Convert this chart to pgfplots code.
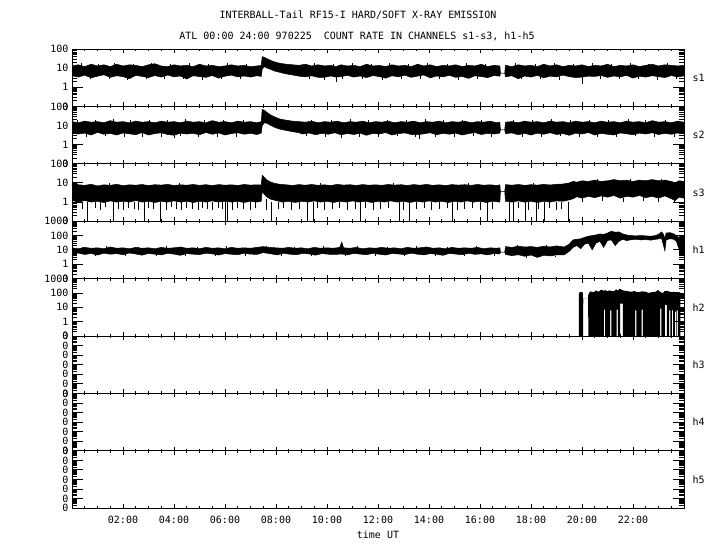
\documentclass[border=0pt]{standalone}
\usepackage{fontspec}
\setmainfont{DejaVu Sans Mono}
\usepackage{pgfplots}
\usepackage{pgfplotstable}
\pgfplotsset{compat=1.18}

% each table: outline of the count-rate band, upper envelope left to right, then lower envelope back
\pgfplotstableread{
t y
0.00 13
0.25 15
0.50 12
0.75 16
1.00 13
1.25 15
1.50 12
1.75 16
2.00 13
2.25 15
2.50 14
2.75 12
3.00 15
3.25 17
3.50 13
3.75 12
4.00 15
4.25 13
4.50 14
4.75 12
5.00 16
5.25 13
5.50 14
5.75 12
6.00 13
6.25 15
6.50 13
6.75 14
7.00 12
7.25 13
7.42 14
7.46 40
7.55 36
7.65 31
7.80 25
7.95 21
8.15 18
8.40 16
8.65 15
8.90 14
9.15 16
9.40 13
9.65 15
9.90 13
10.15 14
10.35 12
10.55 15
10.80 13
11.05 14
11.30 12
11.55 16
11.80 13
12.05 14
12.30 12
12.55 15
12.80 13
13.05 14
13.30 12
13.55 16
13.80 13
14.05 15
14.30 12
14.55 14
14.80 13
15.05 15
15.30 12
15.55 14
15.80 13
16.05 16
16.30 12
16.55 14
16.78 13
16.80 5.5
16.97 5.5
17.00 14
17.25 12
17.50 15
17.75 13
18.00 14
18.25 12
18.50 16
18.75 13
19.00 15
19.25 12
19.50 14
19.75 13
20.00 15
20.25 12
20.50 14
20.75 13
21.00 16
21.25 12
21.50 14
21.75 13
22.00 15
22.25 12
22.50 14
22.75 16
23.00 13
23.25 15
23.50 14
23.75 13
24.00 14
24.00 3.9
23.75 3.5
23.50 4.1
23.25 3.2
23.00 3.6
22.75 4.0
22.50 3.4
22.25 3.8
22.00 3.0
21.75 4.2
21.50 3.5
21.25 3.9
21.00 3.3
20.75 4.1
20.50 3.7
20.25 3.8
20.00 3.4
19.75 3.2
19.50 3.6
19.25 4.3
19.00 3.5
18.75 3.8
18.50 3.1
18.25 4.2
18.00 3.4
17.75 3.9
17.50 2.8
17.25 4.0
17.00 3.5
16.97 5.5
16.80 5.5
16.78 3.8
16.55 4.1
16.30 3.2
16.05 3.6
15.80 4.0
15.55 2.9
15.30 3.7
15.05 3.3
14.80 4.2
14.55 3.5
14.30 3.9
14.05 3.1
13.80 4.4
13.55 3.8
13.30 3.3
13.05 4.3
12.80 3.5
12.55 4.0
12.30 3.0
12.05 3.6
11.80 4.1
11.55 3.2
11.30 3.9
11.05 3.4
10.80 4.2
10.55 3.6
10.35 3.4
10.15 3.9
9.90 3.3
9.65 3.3
9.40 4.0
9.15 3.5
8.90 3.8
8.65 4.4
8.40 5
8.15 6
7.95 7
7.80 8.5
7.65 10
7.55 12
7.46 9
7.42 3.7
7.25 4.0
7.00 3.4
6.75 3.9
6.50 3.5
6.25 4.3
6.00 3.8
5.75 3.0
5.50 4.1
5.25 3.3
5.00 3.6
4.75 4.0
4.50 2.7
4.25 3.9
4.00 3.5
3.75 4.4
3.50 3.4
3.25 4.1
3.00 3.2
2.75 3.7
2.50 4.2
2.25 2.8
2.00 3.6
1.75 4.0
1.50 3.3
1.25 4.5
1.00 3.8
0.75 3.1
0.50 4.3
0.25 3.4
0.00 4.0
}\sone

\pgfplotstableread{
t y
0.00 16
0.25 14
0.50 17
0.75 15
1.00 16
1.25 14
1.50 18
1.75 15
2.00 16
2.25 14
2.50 17
2.75 15
3.00 16
3.25 14
3.50 17
3.75 15
4.00 16
4.25 14
4.50 17
4.75 15
5.00 16
5.25 14
5.50 18
5.75 15
6.00 16
6.25 14
6.50 17
6.75 15
7.00 16
7.25 14
7.42 16
7.46 70
7.55 62
7.65 48
7.80 35
7.95 28
8.15 22
8.40 19
8.65 17
8.90 16
9.15 15
9.40 17
9.65 14
9.90 16
10.15 15
10.40 17
10.65 14
10.90 16
11.15 15
11.40 17
11.65 14
11.90 16
12.15 15
12.40 17
12.65 14
12.90 16
13.15 15
13.40 17
13.65 14
13.90 16
14.15 15
14.40 17
14.65 14
14.90 16
15.15 15
15.40 17
15.65 14
15.90 16
16.15 15
16.40 17
16.65 14
16.78 15
16.80 6
16.97 6
17.00 15
17.25 16
17.50 14
17.75 17
18.00 15
18.25 16
18.50 14
18.75 17
19.00 15
19.25 16
19.50 14
19.75 17
20.00 15
20.25 16
20.50 14
20.75 17
21.00 15
21.25 16
21.50 14
21.75 17
22.00 15
22.25 16
22.50 14
22.75 18
23.00 15
23.25 16
23.50 14
23.75 17
24.00 15
24.00 3.8
23.75 4.1
23.50 3.5
23.25 3.9
23.00 3.4
22.75 4.2
22.50 3.6
22.25 4.0
22.00 3.3
21.75 3.7
21.50 4.1
21.25 3.2
21.00 3.5
20.75 3.9
20.50 3.2
20.25 4.3
20.00 3.6
19.75 4.0
19.50 3.1
19.25 3.8
19.00 3.4
18.75 4.2
18.50 3.5
18.25 4.0
18.00 3.2
17.75 3.9
17.50 3.3
17.25 4.1
17.00 3.8
16.97 6
16.80 6
16.78 4.0
16.55 3.6
16.30 3.9
16.05 3.4
15.80 4.3
15.55 3.8
15.30 3.2
15.05 4.0
14.80 3.5
14.55 3.9
14.30 3.3
14.05 4.2
13.80 3.7
13.55 3.3
13.30 3.4
13.05 4.1
12.80 3.8
12.55 3.2
12.30 4.3
12.05 3.6
11.80 3.9
11.55 3.1
11.30 4.0
11.05 3.4
10.80 3.8
10.55 3.3
10.30 4.2
10.05 3.5
9.80 3.9
9.55 3.3
9.30 4.1
9.05 3.6
8.90 4.2
8.65 4.8
8.40 5.5
8.15 6.5
7.95 8
7.80 10
7.65 13
7.55 14
7.46 10
7.42 4.0
7.25 3.4
7.00 3.9
6.75 3.5
6.50 4.2
6.25 3.8
6.00 3.2
5.75 4.1
5.50 3.5
5.25 4.3
5.00 3.3
4.75 3.9
4.50 3.6
4.25 4.0
4.00 3.1
3.75 3.4
3.50 4.2
3.25 3.8
3.00 3.2
2.75 4.3
2.50 3.3
2.25 3.7
2.00 4.1
1.75 3.2
1.50 3.9
1.25 3.5
1.00 4.4
0.75 3.2
0.50 4.0
0.25 3.6
0.00 4.2
}\stwo

\pgfplotstableread{
t y
0.00 10
0.15 10
0.25 8
0.50 7.5
0.75 8.5
1.00 7.0
1.25 8.0
1.50 7.5
1.75 8.5
2.00 7.2
2.25 8.0
2.50 7.6
2.75 8.3
3.00 7.3
3.25 8.1
3.50 7.7
3.75 8.4
4.00 7.4
4.25 8.0
4.50 7.6
4.75 8.3
5.00 7.5
5.25 8.1
5.50 7.3
5.75 8.2
6.00 7.6
6.25 8.0
6.50 7.4
6.75 8.3
7.00 7.7
7.25 8.0
7.42 7.8
7.46 25
7.55 19
7.65 14
7.80 11
7.95 9.5
8.15 8.5
8.40 8.0
8.65 7.4
8.90 8.2
9.15 7.6
9.40 8.3
9.65 7.5
9.90 8.0
10.15 7.3
10.40 8.4
10.65 7.7
10.90 8.1
11.15 7.4
11.40 8.2
11.65 7.6
11.90 8.0
12.15 7.5
12.40 8.3
12.65 7.7
12.90 8.1
13.15 7.4
13.40 8.2
13.65 7.6
13.90 8.4
14.15 7.5
14.40 8.0
14.65 7.3
14.90 8.2
15.15 7.7
15.40 8.1
15.65 7.5
15.90 8.3
16.15 7.6
16.40 8.0
16.65 7.4
16.78 8.0
16.80 3.5
16.97 3.5
17.00 8.2
17.25 7.6
17.50 8.3
17.75 7.5
18.00 8.1
18.25 7.7
18.50 8.4
18.75 7.8
19.00 8.5
19.25 8.8
19.50 10
19.65 12
19.80 11
20.00 13
20.25 12
20.50 14
20.75 12
21.00 13
21.25 15
21.50 13
21.75 14
22.00 12
22.25 14
22.50 13
22.75 15
23.00 13
23.25 14
23.50 12
23.65 10
23.80 13
24.00 12
24.00 1.6
23.80 1.8
23.65 1.2
23.50 1.5
23.25 2.1
23.00 1.6
22.75 2.0
22.50 1.7
22.25 2.2
22.00 1.8
21.75 2.0
21.50 1.6
21.25 2.2
21.00 1.8
20.75 2.1
20.50 1.7
20.25 2.0
20.00 1.6
19.80 1.9
19.65 1.5
19.50 1.3
19.25 1.1
19.00 1.15
18.75 1.0
18.50 1.1
18.25 0.95
18.00 1.1
17.75 1.0
17.50 1.15
17.25 1.0
17.00 1.1
16.97 3.5
16.80 3.5
16.78 1.0
16.50 1.1
16.25 0.95
16.00 1.1
15.75 1.0
15.50 1.15
15.25 1.0
15.00 1.1
14.75 0.95
14.50 1.1
14.25 1.0
14.00 1.15
13.75 1.0
13.50 1.1
13.25 0.95
13.00 1.1
12.75 1.0
12.50 1.15
12.25 1.0
12.00 1.1
11.75 0.95
11.50 1.1
11.25 1.0
11.00 1.15
10.75 1.0
10.50 1.1
10.25 0.95
10.00 1.1
9.75 1.0
9.50 1.15
9.25 1.0
9.00 1.1
8.75 0.95
8.50 1.1
8.25 1.0
8.00 1.2
7.80 1.4
7.65 1.8
7.55 2.5
7.46 3.5
7.42 1.1
7.25 1.0
7.00 1.1
6.75 0.95
6.50 1.1
6.25 1.0
6.00 1.1
5.75 1.0
5.50 1.15
5.25 1.0
5.00 1.1
4.75 0.95
4.50 1.1
4.25 1.0
4.00 1.15
3.75 1.0
3.50 1.1
3.25 0.95
3.00 1.1
2.75 1.0
2.50 1.2
2.25 1.0
2.00 1.1
1.75 1.0
1.50 1.15
1.25 0.95
1.00 1.1
0.75 1.0
0.50 1.2
0.25 1.0
0.00 1.2
}\sthree

\pgfplotstableread{
t y
0.00 14
0.25 12
0.50 15
0.75 13
1.00 14
1.25 12
1.50 16
1.75 13
2.00 14
2.25 12
2.50 15
2.75 13
3.00 14
3.25 12
3.50 15
3.75 13
4.00 14
4.25 16
4.50 13
4.75 14
5.00 12
5.25 15
5.50 13
5.75 14
6.00 12
6.25 15
6.50 13
6.75 14
7.00 13
7.25 15
7.50 17
7.75 15
8.00 14
8.25 13
8.50 15
8.75 13
9.00 14
9.25 12
9.50 15
9.75 13
10.00 14
10.25 13
10.50 15
10.58 35
10.65 14
10.90 13
11.15 15
11.40 12
11.65 14
11.90 13
12.15 15
12.40 13
12.65 14
12.90 12
13.15 15
13.40 13
13.65 14
13.90 16
14.15 13
14.40 14
14.65 12
14.90 15
15.15 13
15.40 14
15.65 13
15.90 15
16.15 12
16.40 14
16.65 13
16.78 14
16.80 7
16.97 7
17.00 17
17.25 15
17.50 18
17.75 16
18.00 17
18.25 15
18.50 18
18.75 16
19.00 19
19.30 16
19.50 25
19.65 50
19.80 55
19.95 60
20.10 75
20.25 90
20.40 100
20.55 110
20.70 130
20.85 120
21.00 150
21.15 200
21.30 170
21.45 180
21.60 130
21.75 110
21.90 100
22.10 95
22.30 100
22.50 95
22.70 90
22.90 100
23.05 140
23.12 180
23.20 120
23.25 60
23.30 150
23.45 160
23.60 130
23.70 100
23.80 70
23.90 60
24.00 50
24.00 15
23.90 6
23.80 12
23.70 40
23.60 55
23.45 60
23.30 50
23.25 8.5
23.20 20
23.12 60
23.05 60
22.90 55
22.70 48
22.50 52
22.30 50
22.10 55
21.90 50
21.75 45
21.60 55
21.45 40
21.30 20
21.15 50
21.00 45
20.85 15
20.70 40
20.55 30
20.40 10
20.25 30
20.10 25
19.95 12
19.80 20
19.65 15
19.50 8
19.30 4.5
19.00 4.5
18.75 3.8
18.50 4.2
18.25 3.0
18.00 4.4
17.75 3.6
17.50 4.6
17.25 4.0
17.00 4.8
16.97 7
16.80 7
16.78 5.2
16.55 5.6
16.30 4.5
16.05 5.3
15.80 4.9
15.55 5.8
15.30 4.6
15.05 5.1
14.80 5.7
14.55 4.2
14.30 5.0
14.05 5.5
13.80 4.5
13.55 5.0
13.30 5.9
13.05 4.7
12.80 5.2
12.55 5.6
12.30 4.4
12.05 5.0
11.80 5.8
11.55 4.6
11.30 5.1
11.05 5.7
10.80 4.5
10.58 5.2
10.30 4.8
10.05 5.0
9.80 5.6
9.55 4.3
9.30 5.2
9.05 5.7
8.80 4.6
8.55 5.0
8.30 5.8
8.05 4.5
7.75 5.5
7.50 6.5
7.25 4.8
7.00 5.1
6.75 5.8
6.50 4.6
6.25 5.0
6.00 5.5
5.75 4.4
5.50 5.3
5.25 5.9
5.00 4.7
4.75 5.0
4.50 5.6
4.25 4.2
4.00 5.1
3.75 5.8
3.50 4.5
3.25 5.0
3.00 5.7
2.75 4.3
2.50 5.2
2.25 6.1
2.00 4.6
1.75 5.5
1.50 5.0
1.25 5.9
1.00 4.4
0.75 5.6
0.50 4.8
0.25 6.0
0.00 5.2
}\hone

\pgfplotstableread{
t y
19.88 0.1
19.88 105
19.95 115
20.03 110
20.04 38
20.23 40
20.25 80
20.32 130
20.45 110
20.55 150
20.65 120
20.75 170
20.86 140
20.91 160
21.00 130
21.08 150
21.13 140
21.25 130
21.34 180
21.41 140
21.47 200
21.55 170
21.62 150
21.72 140
21.82 130
21.92 120
22.02 130
22.06 140
22.11 120
22.22 115
22.32 125
22.37 130
22.50 120
22.62 100
22.75 115
22.88 120
22.98 160
23.04 130
23.09 110
23.18 100
23.23 130
23.32 140
23.40 130
23.46 115
23.54 120
23.63 115
23.69 115
23.75 115
23.86 110
23.86 0.1
23.76 0.1
23.76 6
23.71 6
23.71 0.1
23.69 0.1
23.69 5
23.64 5
23.64 0.1
23.57 0.1
23.57 6
23.52 6
23.52 0.1
23.47 0.1
23.47 6
23.42 6
23.42 0.1
23.33 0.1
23.33 15
23.25 15
23.25 0.1
23.11 0.1
23.11 8
23.06 8
23.06 0.1
22.39 0.1
22.39 7
22.34 7
22.34 0.1
22.13 0.1
22.13 6
22.08 6
22.08 0.1
21.60 0.1
21.60 18
21.49 18
21.49 0.1
21.41 0.1
21.41 7
21.36 7
21.36 0.1
21.15 0.1
21.15 6
21.10 6
21.10 0.1
20.91 0.1
20.91 7
20.86 7
20.86 0.1
20.25 0.1
20.24 40
20.05 38
20.04 0.1
19.88 0.1
}\htwo

\pgfplotsset{every axis/.append style={
  scale only axis, width=612bp, height=57.4bp,
  xmin=0, xmax=24,
  xtick={2,4,...,22}, minor xtick={0.5,1,...,23.5},
  xticklabels={},
  tick align=inside,
  xmajorticks=true, xminorticks=true, ymajorticks=true, yminorticks=true,
  xtick pos=both, ytick pos=both,
  axis line style={line width=0.9bp},
  tick style={draw=black, line width=0.9bp},
  major tick length=11bp, minor tick length=5bp,
  xtick style={/pgfplots/major tick length=4bp, /pgfplots/minor tick length=2bp},
  ytick style={/pgfplots/major tick length=11bp, /pgfplots/minor tick length=5bp},
  tick label style={font=\fontsize{10bp}{12bp}\selectfont},
  axis on top,
}}

\begin{document}
\begin{tikzpicture}
\path[use as bounding box] (0,0) rectangle (720bp,-550bp);
\node[font=\fontsize{10bp}{12bp}\selectfont] at (358bp,-15bp) {INTERBALL-Tail RF15-I HARD/SOFT X-RAY EMISSION};
\node[font=\fontsize{10bp}{12bp}\selectfont] at (357bp,-36bp) {ATL 00:00 24:00 970225\ \ COUNT RATE IN CHANNELS s1-s3, h1-h5};
\node[font=\fontsize{10bp}{12bp}\selectfont, anchor=west] at (689bp,-77.7bp) {s1};
\node[font=\fontsize{10bp}{12bp}\selectfont, anchor=west] at (689bp,-135.1bp) {s2};
\node[font=\fontsize{10bp}{12bp}\selectfont, anchor=west] at (689bp,-192.5bp) {s3};
\node[font=\fontsize{10bp}{12bp}\selectfont, anchor=west] at (689bp,-249.9bp) {h1};
\node[font=\fontsize{10bp}{12bp}\selectfont, anchor=west] at (689bp,-307.3bp) {h2};
\node[font=\fontsize{10bp}{12bp}\selectfont, anchor=west] at (689bp,-364.7bp) {h3};
\node[font=\fontsize{10bp}{12bp}\selectfont, anchor=west] at (689bp,-422.1bp) {h4};
\node[font=\fontsize{10bp}{12bp}\selectfont, anchor=west] at (689bp,-479.5bp) {h5};

\begin{axis}[at={(72bp,-49bp)}, anchor=north west, ymode=log,
  ymin=0.1, ymax=100, ytick={0.1,1,10,100}, yticklabels={0,1,10,100},
  minor ytick={0.2,0.3,0.4,0.5,0.6,0.7,0.8,0.9,2,3,4,5,6,7,8,9,20,30,40,50,60,70,80,90}]
\addplot[fill=black, draw=black, line width=0.5bp] table[x=t,y=y]{\sone};
\addplot[black, line width=0.6bp, unbounded coords=jump] coordinates {
(0.35,12) (0.35,18) (0.35,nan) (1.05,12) (1.05,17) (1.05,nan) (1.65,12) (1.65,19) (1.65,nan)
(2.40,12) (2.40,17) (2.40,nan) (3.10,12) (3.10,18) (3.10,nan) (3.85,12) (3.85,17) (3.85,nan)
(4.60,12) (4.60,19) (4.60,nan) (5.35,12) (5.35,17) (5.35,nan) (6.10,12) (6.10,18) (6.10,nan)
(6.85,12) (6.85,17) (6.85,nan) (9.50,12) (9.50,18) (9.50,nan) (10.25,12) (10.25,17) (10.25,nan)
(11.00,12) (11.00,19) (11.00,nan) (11.75,12) (11.75,17) (11.75,nan) (12.45,12) (12.45,18) (12.45,nan)
(13.20,12) (13.20,17) (13.20,nan) (13.95,12) (13.95,19) (13.95,nan) (14.70,12) (14.70,17) (14.70,nan)
(15.45,12) (15.45,18) (15.45,nan) (16.20,12) (16.20,17) (16.20,nan) (17.40,12) (17.40,18) (17.40,nan)
(18.15,12) (18.15,17) (18.15,nan) (18.90,12) (18.90,19) (18.90,nan) (19.65,12) (19.65,17) (19.65,nan)
(20.40,12) (20.40,18) (20.40,nan) (21.15,12) (21.15,17) (21.15,nan) (21.90,12) (21.90,19) (21.90,nan)
(22.60,12) (22.60,17) (22.60,nan) (23.35,12) (23.35,18) (23.35,nan)
(0.70,4) (0.70,2.6) (0.70,nan) (1.45,4) (1.45,2.8) (1.45,nan) (2.15,4) (2.15,2.5) (2.15,nan)
(2.90,4) (2.90,2.7) (2.90,nan) (3.60,4) (3.60,2.6) (3.60,nan) (4.35,4) (4.35,2.8) (4.35,nan)
(5.10,4) (5.10,2.5) (5.10,nan) (5.85,4) (5.85,2.7) (5.85,nan) (6.60,4) (6.60,2.6) (6.60,nan)
(9.30,4) (9.30,2.8) (9.30,nan) (9.90,4) (9.90,2.3) (9.90,nan) (10.35,4) (10.35,1.9) (10.35,nan)
(10.60,4) (10.60,2.6) (10.60,nan) (11.40,4) (11.40,2.7) (11.40,nan)
(12.15,4) (12.15,2.5) (12.15,nan) (12.90,4) (12.90,2.8) (12.90,nan) (13.65,4) (13.65,2.6) (13.65,nan)
(14.40,4) (14.40,2.7) (14.40,nan) (15.15,4) (15.15,2.5) (15.15,nan) (15.90,4) (15.90,2.8) (15.90,nan)
(17.60,4) (17.60,2.6) (17.60,nan) (18.35,4) (18.35,2.7) (18.35,nan) (19.10,4) (19.10,2.5) (19.10,nan)
(20.03,4) (20.03,1.5) (20.03,nan)
(20.70,4) (20.70,2.8) (20.70,nan) (21.45,4) (21.45,2.6) (21.45,nan) (22.20,4) (22.20,2.7) (22.20,nan)
(22.95,4) (22.95,2.5) (22.95,nan) (23.70,4) (23.70,2.8) (23.70,nan)
};
\end{axis}

\begin{axis}[at={(72bp,-106.4bp)}, anchor=north west, ymode=log,
  ymin=0.1, ymax=100, ytick={0.1,1,10,100}, yticklabels={0,1,10,100},
  minor ytick={0.2,0.3,0.4,0.5,0.6,0.7,0.8,0.9,2,3,4,5,6,7,8,9,20,30,40,50,60,70,80,90}]
\addplot[fill=black, draw=black, line width=0.5bp] table[x=t,y=y]{\stwo};
\addplot[black, line width=0.6bp, unbounded coords=jump] coordinates {
(0.20,14) (0.20,20) (0.20,nan) (0.90,14) (0.90,19) (0.90,nan) (1.60,14) (1.60,21) (1.60,nan)
(2.30,14) (2.30,19) (2.30,nan) (3.05,14) (3.05,20) (3.05,nan) (3.75,14) (3.75,19) (3.75,nan)
(4.45,14) (4.45,21) (4.45,nan) (5.20,14) (5.20,19) (5.20,nan) (5.95,14) (5.95,20) (5.95,nan)
(6.70,14) (6.70,19) (6.70,nan) (9.40,14) (9.40,20) (9.40,nan) (10.15,14) (10.15,19) (10.15,nan)
(10.90,14) (10.90,21) (10.90,nan) (11.60,14) (11.60,19) (11.60,nan) (12.35,14) (12.35,20) (12.35,nan)
(13.10,14) (13.10,19) (13.10,nan) (13.85,14) (13.85,21) (13.85,nan) (14.55,14) (14.55,19) (14.55,nan)
(15.30,14) (15.30,20) (15.30,nan) (16.05,14) (16.05,19) (16.05,nan) (17.30,14) (17.30,20) (17.30,nan)
(18.05,14) (18.05,19) (18.05,nan) (18.80,14) (18.80,21) (18.80,nan) (19.55,14) (19.55,19) (19.55,nan)
(20.30,14) (20.30,20) (20.30,nan) (21.05,14) (21.05,19) (21.05,nan) (21.80,14) (21.80,21) (21.80,nan)
(22.50,14) (22.50,19) (22.50,nan) (23.25,14) (23.25,20) (23.25,nan)
(0.55,4) (0.55,2.4) (0.55,nan) (1.30,4) (1.30,2.7) (1.30,nan) (2.05,4) (2.05,2.5) (2.05,nan)
(2.75,4) (2.75,2.6) (2.75,nan) (3.50,4) (3.50,2.4) (3.50,nan) (4.00,4) (4.00,2.3) (4.00,nan)
(4.25,4) (4.25,2.7) (4.25,nan)
(4.95,4) (4.95,2.5) (4.95,nan) (5.70,4) (5.70,2.6) (5.70,nan) (6.45,4) (6.45,2.4) (6.45,nan)
(9.20,4) (9.20,2.7) (9.20,nan) (9.95,4) (9.95,2.5) (9.95,nan) (10.55,4) (10.55,2.2) (10.55,nan)
(11.25,4) (11.25,2.6) (11.25,nan)
(12.00,4) (12.00,2.4) (12.00,nan) (12.75,4) (12.75,2.7) (12.75,nan) (13.45,4) (13.45,2.5) (13.45,nan)
(13.60,4) (13.60,2.1) (13.60,nan)
(14.25,4) (14.25,2.6) (14.25,nan) (15.00,4) (15.00,2.4) (15.00,nan) (15.75,4) (15.75,2.7) (15.75,nan)
(16.45,4) (16.45,2.5) (16.45,nan) (17.65,4) (17.65,2.6) (17.65,nan) (18.40,4) (18.40,2.4) (18.40,nan)
(19.15,4) (19.15,2.7) (19.15,nan) (19.90,4) (19.90,2.5) (19.90,nan) (20.60,4) (20.60,2.6) (20.60,nan)
(21.35,4) (21.35,2.4) (21.35,nan) (22.10,4) (22.10,2.7) (22.10,nan) (22.85,4) (22.85,2.5) (22.85,nan)
(23.60,4) (23.60,2.6) (23.60,nan)
};
\end{axis}

\begin{axis}[at={(72bp,-163.8bp)}, anchor=north west, ymode=log,
  ymin=0.1, ymax=100, ytick={0.1,1,10,100}, yticklabels={0,1,10,100},
  minor ytick={0.2,0.3,0.4,0.5,0.6,0.7,0.8,0.9,2,3,4,5,6,7,8,9,20,30,40,50,60,70,80,90}]
\addplot[fill=black, draw=black, line width=0.5bp] table[x=t,y=y]{\sthree};
\addplot[black, line width=0.6bp, unbounded coords=jump] coordinates {
(0.61,1.0) (0.61,0.1) (0.61,nan) (1.60,1.0) (1.60,0.1) (1.60,nan)
(2.85,1.0) (2.85,0.1) (2.85,nan) (3.45,1.0) (3.45,0.1) (3.45,nan)
(6.01,1.0) (6.01,0.1) (6.01,nan) (6.09,1.0) (6.09,0.1) (6.09,nan)
(7.82,1.0) (7.82,0.1) (7.82,nan) (9.21,1.0) (9.21,0.1) (9.21,nan)
(9.46,1.0) (9.46,0.1) (9.46,nan) (11.30,1.0) (11.30,0.1) (11.30,nan)
(12.82,1.0) (12.82,0.1) (12.82,nan) (13.22,1.0) (13.22,0.1) (13.22,nan)
(14.90,1.0) (14.90,0.1) (14.90,nan) (16.27,1.0) (16.27,0.1) (16.27,nan)
(17.15,1.0) (17.15,0.1) (17.15,nan) (17.31,1.0) (17.31,0.1) (17.31,nan)
(17.79,1.0) (17.79,0.1) (17.79,nan) (18.19,1.0) (18.19,0.1) (18.19,nan)
(18.51,1.0) (18.51,0.1) (18.51,nan) (19.47,1.0) (19.47,0.1) (19.47,nan)
};
\addplot[black, line width=0.6bp, unbounded coords=jump] coordinates {
(0.40,1.0) (0.40,0.45) (0.40,nan) (0.90,1.0) (0.90,0.5) (0.90,nan)
(1.10,1.0) (1.10,0.4) (1.10,nan) (1.30,1.0) (1.30,0.55) (1.30,nan)
(1.80,1.0) (1.80,0.45) (1.80,nan) (2.00,1.0) (2.00,0.4) (2.00,nan)
(2.20,1.0) (2.20,0.5) (2.20,nan) (2.45,1.0) (2.45,0.45) (2.45,nan)
(2.60,1.0) (2.60,0.4) (2.60,nan) (3.00,1.0) (3.00,0.5) (3.00,nan)
(3.20,1.0) (3.20,0.45) (3.20,nan) (3.70,1.0) (3.70,0.4) (3.70,nan)
(3.90,1.0) (3.90,0.55) (3.90,nan) (4.10,1.0) (4.10,0.45) (4.10,nan)
(4.30,1.0) (4.30,0.4) (4.30,nan) (4.50,1.0) (4.50,0.5) (4.50,nan)
(4.70,1.0) (4.70,0.45) (4.70,nan) (4.95,1.0) (4.95,0.4) (4.95,nan)
(5.10,1.0) (5.10,0.5) (5.10,nan) (5.30,1.0) (5.30,0.45) (5.30,nan)
(5.50,1.0) (5.50,0.4) (5.50,nan) (5.75,1.0) (5.75,0.5) (5.75,nan)
(5.90,1.0) (5.90,0.45) (5.90,nan) (6.30,1.0) (6.30,0.4) (6.30,nan)
(6.50,1.0) (6.50,0.5) (6.50,nan) (6.70,1.0) (6.70,0.45) (6.70,nan)
(7.00,1.0) (7.00,0.4) (7.00,nan) (7.20,1.0) (7.20,0.5) (7.20,nan)
(7.60,1.5) (7.60,0.4) (7.60,nan) (8.10,1.0) (8.10,0.45) (8.10,nan)
(8.30,1.0) (8.30,0.5) (8.30,nan) (8.60,1.0) (8.60,0.4) (8.60,nan)
(8.90,1.0) (8.90,0.45) (8.90,nan) (9.60,1.0) (9.60,0.5) (9.60,nan)
(9.90,1.0) (9.90,0.4) (9.90,nan) (10.20,1.0) (10.20,0.45) (10.20,nan)
(10.50,1.0) (10.50,0.5) (10.50,nan) (10.80,1.0) (10.80,0.4) (10.80,nan)
(11.10,1.0) (11.10,0.45) (11.10,nan) (11.50,1.0) (11.50,0.5) (11.50,nan)
(11.80,1.0) (11.80,0.4) (11.80,nan) (12.10,1.0) (12.10,0.45) (12.10,nan)
(12.40,1.0) (12.40,0.5) (12.40,nan) (13.00,1.0) (13.00,0.4) (13.00,nan)
(13.50,1.0) (13.50,0.45) (13.50,nan) (13.80,1.0) (13.80,0.5) (13.80,nan)
(14.10,1.0) (14.10,0.4) (14.10,nan) (14.40,1.0) (14.40,0.45) (14.40,nan)
(14.70,1.0) (14.70,0.5) (14.70,nan) (15.10,1.0) (15.10,0.4) (15.10,nan)
(15.40,1.0) (15.40,0.45) (15.40,nan) (15.70,1.0) (15.70,0.5) (15.70,nan)
(16.00,1.0) (16.00,0.4) (16.00,nan) (16.50,1.0) (16.50,0.45) (16.50,nan)
(17.50,1.0) (17.50,0.5) (17.50,nan) (17.90,1.0) (17.90,0.4) (17.90,nan)
(18.30,1.0) (18.30,0.45) (18.30,nan) (18.70,1.0) (18.70,0.5) (18.70,nan)
(19.00,1.0) (19.00,0.4) (19.00,nan) (19.20,1.0) (19.20,0.45) (19.20,nan)
(20.00,1.6) (20.00,1.0) (20.00,nan) (20.80,2.0) (20.80,1.1) (20.80,nan)
(21.60,1.6) (21.60,1.0) (21.60,nan) (22.40,2.0) (22.40,1.2) (22.40,nan)
(23.00,1.6) (23.00,1.0) (23.00,nan) (23.60,1.3) (23.60,0.9) (23.60,nan)
(1.45,7) (1.45,9.5) (1.45,nan) (4.20,7) (4.20,9.5) (4.20,nan) (9.75,7) (9.75,9.5) (9.75,nan)
(12.60,7) (12.60,9.5) (12.60,nan) (15.55,7) (15.55,9.5) (15.55,nan) (18.10,7) (18.10,9.5) (18.10,nan)
(20.60,12) (20.60,17) (20.60,nan) (21.90,12) (21.90,17) (21.90,nan) (23.10,12) (23.10,16) (23.10,nan)
};
\end{axis}

\begin{axis}[at={(72bp,-221.2bp)}, anchor=north west, ymode=log,
  ymin=0.1, ymax=1000, ytick={0.1,1,10,100,1000}, yticklabels={0,1,10,100,1000},
  minor ytick={0.2,0.3,0.4,0.5,0.6,0.7,0.8,0.9,2,3,4,5,6,7,8,9,20,30,40,50,60,70,80,90,200,300,400,500,600,700,800,900}]
\addplot[fill=black, draw=black, line width=0.5bp] table[x=t,y=y]{\hone};
\addplot[black, line width=0.6bp, unbounded coords=jump] coordinates {
(0.40,12) (0.40,17) (0.40,nan) (1.35,12) (1.35,18) (1.35,nan) (2.60,12) (2.60,17) (2.60,nan)
(3.70,12) (3.70,19) (3.70,nan) (4.90,12) (4.90,17) (4.90,nan) (6.05,12) (6.05,18) (6.05,nan)
(7.60,14) (7.60,20) (7.60,nan) (8.70,12) (8.70,17) (8.70,nan) (9.85,12) (9.85,18) (9.85,nan)
(11.20,12) (11.20,19) (11.20,nan) (12.35,12) (12.35,17) (12.35,nan) (13.50,12) (13.50,18) (13.50,nan)
(14.70,12) (14.70,17) (14.70,nan) (15.85,12) (15.85,19) (15.85,nan) (17.45,15) (17.45,21) (17.45,nan)
(18.60,15) (18.60,22) (18.60,nan)
(0.90,5) (0.90,3.6) (0.90,nan) (2.10,5) (2.10,3.8) (2.10,nan) (3.30,5) (3.30,3.5) (3.30,nan)
(4.45,5) (4.45,3.7) (4.45,nan) (5.60,5) (5.60,3.6) (5.60,nan) (6.80,5) (6.80,3.8) (6.80,nan)
(8.20,5) (8.20,3.5) (8.20,nan) (9.40,5) (9.40,3.7) (9.40,nan) (10.70,5) (10.70,3.6) (10.70,nan)
(11.90,5) (11.90,3.8) (11.90,nan) (13.05,5) (13.05,3.5) (13.05,nan) (14.25,5) (14.25,3.7) (14.25,nan)
(15.40,5) (15.40,3.6) (15.40,nan) (16.55,5) (16.55,3.8) (16.55,nan) (17.80,4) (17.80,2.8) (17.80,nan)
(18.95,4) (18.95,3.0) (18.95,nan)
};
\end{axis}

\begin{axis}[at={(72bp,-278.6bp)}, anchor=north west, ymode=log,
  ymin=0.1, ymax=1000, ytick={0.1,1,10,100,1000}, yticklabels={0,1,10,100,1000},
  minor ytick={0.2,0.3,0.4,0.5,0.6,0.7,0.8,0.9,2,3,4,5,6,7,8,9,20,30,40,50,60,70,80,90,200,300,400,500,600,700,800,900}]
\addplot[fill=black, draw=none] table[x=t,y=y]{\htwo};
\end{axis}

\begin{axis}[at={(72bp,-336bp)}, anchor=north west, ymode=log,
  ymin=1e-7, ymax=1e-1, ytick={1e-7,1e-6,1e-5,1e-4,1e-3,1e-2,1e-1}, yticklabels={0,0,0,0,0,0,0},
  minor ytick={2e-7,3e-7,4e-7,5e-7,6e-7,7e-7,8e-7,9e-7,2e-6,3e-6,4e-6,5e-6,6e-6,7e-6,8e-6,9e-6,2e-5,3e-5,4e-5,5e-5,6e-5,7e-5,8e-5,9e-5,2e-4,3e-4,4e-4,5e-4,6e-4,7e-4,8e-4,9e-4,2e-3,3e-3,4e-3,5e-3,6e-3,7e-3,8e-3,9e-3,2e-2,3e-2,4e-2,5e-2,6e-2,7e-2,8e-2,9e-2}]
\addplot[black] coordinates {(0,1e-9) (24,1e-9)};
\end{axis}

\begin{axis}[at={(72bp,-393.4bp)}, anchor=north west, ymode=log,
  ymin=1e-7, ymax=1e-1, ytick={1e-7,1e-6,1e-5,1e-4,1e-3,1e-2,1e-1}, yticklabels={0,0,0,0,0,0,0},
  minor ytick={2e-7,3e-7,4e-7,5e-7,6e-7,7e-7,8e-7,9e-7,2e-6,3e-6,4e-6,5e-6,6e-6,7e-6,8e-6,9e-6,2e-5,3e-5,4e-5,5e-5,6e-5,7e-5,8e-5,9e-5,2e-4,3e-4,4e-4,5e-4,6e-4,7e-4,8e-4,9e-4,2e-3,3e-3,4e-3,5e-3,6e-3,7e-3,8e-3,9e-3,2e-2,3e-2,4e-2,5e-2,6e-2,7e-2,8e-2,9e-2}]
\addplot[black] coordinates {(0,1e-9) (24,1e-9)};
\end{axis}

\begin{axis}[at={(72bp,-450.8bp)}, anchor=north west, ymode=log,
  ymin=1e-7, ymax=1e-1, ytick={1e-7,1e-6,1e-5,1e-4,1e-3,1e-2,1e-1}, yticklabels={0,0,0,0,0,0,0},
  minor ytick={2e-7,3e-7,4e-7,5e-7,6e-7,7e-7,8e-7,9e-7,2e-6,3e-6,4e-6,5e-6,6e-6,7e-6,8e-6,9e-6,2e-5,3e-5,4e-5,5e-5,6e-5,7e-5,8e-5,9e-5,2e-4,3e-4,4e-4,5e-4,6e-4,7e-4,8e-4,9e-4,2e-3,3e-3,4e-3,5e-3,6e-3,7e-3,8e-3,9e-3,2e-2,3e-2,4e-2,5e-2,6e-2,7e-2,8e-2,9e-2},
  xticklabels={02:00,04:00,06:00,08:00,10:00,12:00,14:00,16:00,18:00,20:00,22:00},
  xticklabel style={yshift=-4bp},
  xlabel={time UT}, xlabel style={font=\fontsize{10bp}{12bp}\selectfont, yshift=-1bp}]
\addplot[black] coordinates {(0,1e-9) (24,1e-9)};
\end{axis}
\end{tikzpicture}
\end{document}
